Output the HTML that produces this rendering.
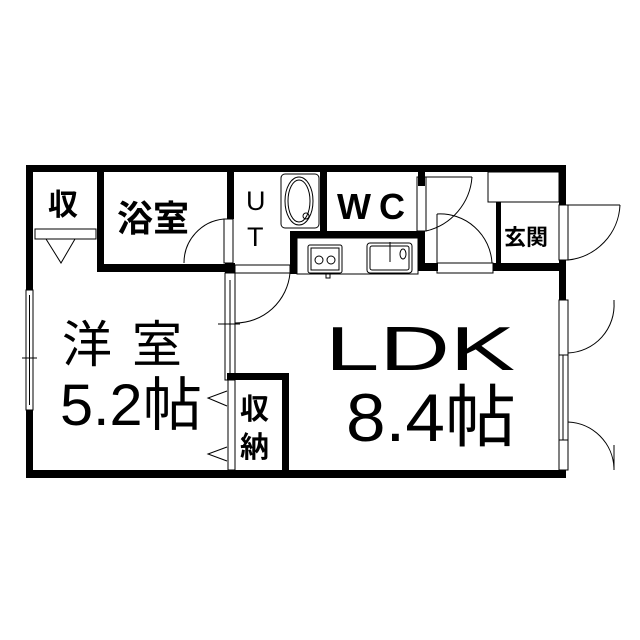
<!DOCTYPE html>
<html><head><meta charset="utf-8"><style>
html,body{margin:0;padding:0;background:#fff;}
svg{display:block}
text{font-family:"Liberation Sans","Noto Sans CJK JP",sans-serif;fill:#000}
</style></head><body>
<svg width="640" height="640" viewBox="0 0 640 640" xmlns="http://www.w3.org/2000/svg">
<rect width="640" height="640" fill="#fff"/>
<g fill="#000">
<rect x="26" y="165" width="540" height="7"/>
<rect x="26" y="165" width="7" height="125"/>
<rect x="26" y="410" width="7" height="68"/>
<rect x="26" y="470" width="540" height="8"/>
<rect x="559" y="165" width="7" height="40"/>
<rect x="559" y="260" width="7" height="40"/>
<rect x="97" y="172" width="7" height="100"/>
<rect x="97" y="264" width="138" height="8"/>
<rect x="227" y="172" width="7" height="47"/>
<rect x="225" y="263" width="10" height="10"/>
<rect x="320" y="172" width="7" height="60"/>
<rect x="290" y="231" width="135" height="7"/>
<rect x="290" y="231" width="7" height="43"/>
<rect x="418" y="231" width="7" height="40"/>
<rect x="418" y="172" width="7" height="14"/>
<rect x="496" y="202" width="5" height="68"/>
<rect x="418" y="263" width="20" height="8"/>
<rect x="493" y="263" width="70" height="8"/>
<rect x="227" y="373" width="62" height="7"/>
<rect x="282" y="373" width="7" height="100"/>
</g>
<g fill="none" stroke="#000" stroke-width="1">
<rect x="35" y="229" width="61" height="10"/>
<polyline points="46,239 61,263 75,239"/>
<rect x="488" y="172" width="71" height="30"/>
<rect x="224" y="219" width="9" height="44"/>
<path d="M184,263 A44,44 0 0 1 224,219"/>
<rect x="235" y="265" width="55" height="8"/>
<path d="M235,323 A55,55 0 0 0 290,273"/>
<rect x="225" y="273" width="10" height="107"/>
<line x1="230" y1="280" x2="230" y2="375"/>
<line x1="218" y1="324" x2="240" y2="324"/>
<rect x="281" y="174" width="38" height="54" rx="4"/>
<ellipse cx="299" cy="201" rx="14" ry="24"/>
<ellipse cx="299" cy="201" rx="11" ry="21"/>
<circle cx="306" cy="216" r="3"/>
<rect x="297" y="238" width="121" height="36"/>
<rect x="308" y="245" width="34" height="28" rx="2"/>
<rect x="311" y="248" width="28" height="22"/>
<circle cx="319" cy="260" r="4"/><circle cx="331" cy="260" r="4"/>
<rect x="367" y="243" width="45" height="30" rx="3"/>
<rect x="370" y="246" width="39" height="24" rx="2"/>
<line x1="390" y1="242" x2="390" y2="262"/>
<ellipse cx="403" cy="254" rx="3" ry="5"/>
<rect x="326" y="274" width="4" height="4"/>
<rect x="417" y="177" width="9" height="54"/>
<path d="M426,231 A60,60 0 0 0 472,177"/>
<line x1="426" y1="177" x2="472" y2="177"/>
<rect x="437" y="263" width="56" height="10"/>
<line x1="437" y1="214" x2="437" y2="263"/>
<path d="M437,214 A52,52 0 0 1 492,263"/>
<rect x="559" y="205" width="9" height="55"/>
<path d="M568,260 A58,58 0 0 0 620,205"/>
<line x1="568" y1="205" x2="620" y2="205"/>
<rect x="26" y="290" width="7" height="120"/>
<line x1="29.5" y1="295" x2="29.5" y2="405"/>
<line x1="22" y1="358" x2="37" y2="358"/>
<rect x="559" y="300" width="9" height="170"/>
<line x1="563" y1="355" x2="563" y2="440"/>
<line x1="559" y1="355" x2="568" y2="355"/>
<line x1="559" y1="440" x2="568" y2="440"/>
<path d="M568,353 A48,48 0 0 0 614,302"/>
<line x1="614" y1="300" x2="614" y2="304"/>
<path d="M568,422 A48,48 0 0 1 614,468"/>
<line x1="614" y1="445" x2="614" y2="470"/>
<rect x="228" y="380" width="7" height="90"/>
<polyline points="227,391 208,398 227,406"/>
<polyline points="227,447 208,454 227,461"/>
</g>
<text x="48" y="215" font-size="30" font-weight="bold">収</text>
<text x="117" y="231" font-size="36" font-weight="bold">浴室</text>
<text x="246" y="210" font-size="27">U</text>
<text x="247" y="246" font-size="27">T</text>
<text x="337" y="219" font-size="36" font-weight="bold" letter-spacing="8">WC</text>
<text x="504" y="245" font-size="22" font-weight="bold">玄関</text>
<text x="62" y="362" font-size="50" letter-spacing="20">洋室</text>
<text x="60" y="425" font-size="58" textLength="142" lengthAdjust="spacingAndGlyphs">5.2帖</text>
<text x="325" y="370" font-size="62" textLength="190" lengthAdjust="spacingAndGlyphs">LDK</text>
<text x="346" y="441" font-size="68" textLength="170" lengthAdjust="spacingAndGlyphs">8.4帖</text>
<text x="240" y="419" font-size="29" font-weight="bold">収</text>
<text x="240" y="457" font-size="29" font-weight="bold">納</text>
</svg>
</body></html>
